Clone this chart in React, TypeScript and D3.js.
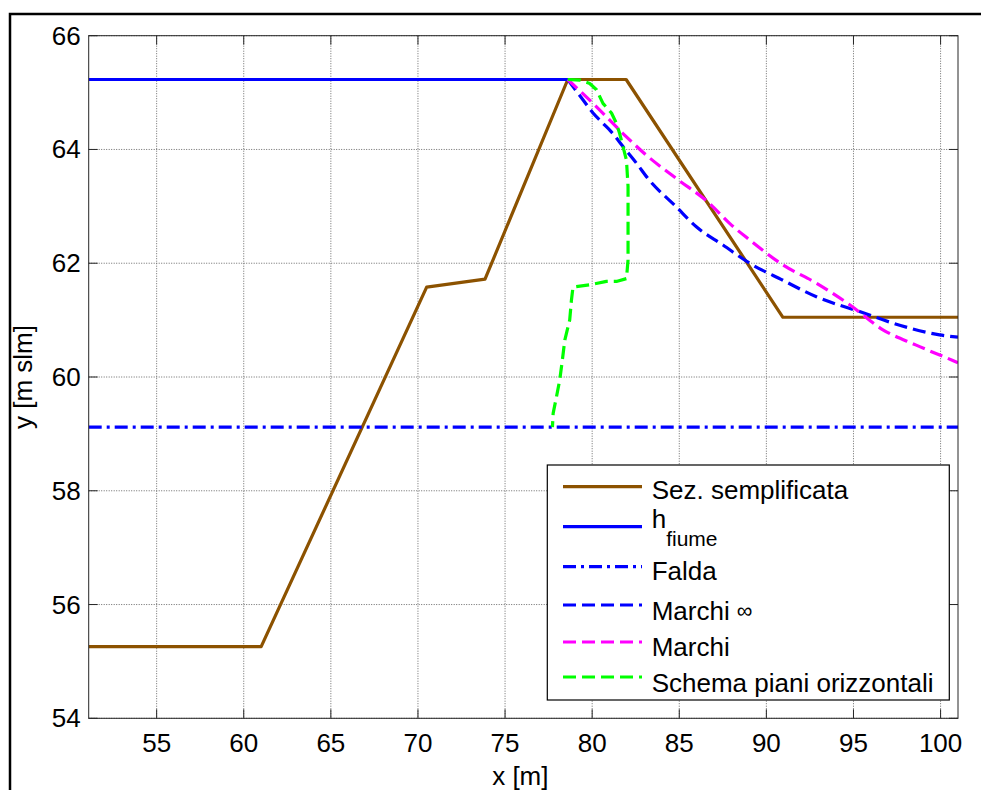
import React from "react";
import * as d3 from "d3";

const sezX = [51.1, 61.0, 70.5, 73.85, 78.6, 81.95, 90.95, 101];
const sezY = [55.26, 55.26, 61.58, 61.72, 65.23, 65.23, 61.05, 61.05];

const fiumeX = [51.1, 78.6];
const fiumeY = [65.23, 65.23];

const faldaX = [51.1, 101];
const faldaY = [59.12, 59.12];

const marchiInfX = [78.6, 79.48, 80.05, 80.62, 81.1, 81.77, 82.54, 83.2, 84.83, 85.98, 87.51, 89.04, 90.95, 92.87, 95.35, 97.65, 99.94, 101];
const marchiInfY = [65.23, 64.87, 64.64, 64.46, 64.31, 64.05, 63.76, 63.49, 62.99, 62.64, 62.32, 62.0, 61.7, 61.41, 61.15, 60.91, 60.74, 60.7];

const marchiX = [78.6, 80.25, 81.77, 83.11, 84.83, 86.74, 87.89, 89.04, 90.95, 92.87, 94.78, 96.69, 98.6, 100.7, 101];
const marchiY = [65.23, 64.75, 64.28, 63.9, 63.49, 63.05, 62.7, 62.41, 61.97, 61.65, 61.27, 60.83, 60.56, 60.29, 60.25];

const schemaX = [78.6, 79.29, 79.86, 80.25, 80.62, 81.11, 81.39, 81.58, 81.77, 81.97, 82.06, 82.06, 82.06, 81.97, 81.39, 80.82, 79.86, 78.9, 78.81, 78.71, 78.43, 78.29, 78.14, 77.95, 77.76, 77.72];
const schemaY = [65.23, 65.22, 65.16, 65.05, 64.81, 64.64, 64.46, 64.28, 64.05, 63.81, 63.35, 62.88, 62.06, 61.73, 61.68, 61.68, 61.62, 61.58, 61.35, 61.0, 60.65, 60.3, 59.95, 59.65, 59.36, 59.12];

const xTicks = [55, 60, 65, 70, 75, 80, 85, 90, 95, 100];
const yTicks = [54, 56, 58, 60, 62, 64, 66];

const legendLabels = ["Sez. semplificata", "h", "Falda", "Marchi", "Marchi", "Schema piani orizzontali"];

const BROWN = "rgb(140,82,0)";
const BLUE = "rgb(0,0,255)";
const MAGENTA = "rgb(255,0,255)";
const GREEN = "rgb(0,255,0)";

const series = [
  { xs: sezX, ys: sezY, color: BROWN, dash: "none", smooth: false },
  { xs: fiumeX, ys: fiumeY, color: BLUE, dash: "none", smooth: false },
  { xs: faldaX, ys: faldaY, color: BLUE, dash: "13,5,3,5", smooth: false },
  { xs: marchiInfX, ys: marchiInfY, color: BLUE, dash: "13,6", smooth: true },
  { xs: marchiX, ys: marchiY, color: MAGENTA, dash: "13,6", smooth: true },
  { xs: schemaX, ys: schemaY, color: GREEN, dash: "13,6", smooth: false },
];

export default function App() {
  const L = 88.7, R = 958, T = 35.7, B = 718.3;
  const x = d3.scaleLinear().domain([51.1, 101]).range([L, R]);
  const y = d3.scaleLinear().domain([54, 66]).range([B, T]);
  const font = "Arial, 'Liberation Sans', sans-serif";
  const fs = 26;

  const lineGen = (xs: number[], ys: number[], smooth: boolean) =>
    d3
      .line<number>()
      .x((_, i) => x(xs[i]))
      .y((_, i) => y(ys[i]))
      .curve(smooth ? d3.curveMonotoneX : d3.curveLinear)(xs) || "";

  const legL = 547.3, legT = 465, legR = 949.3, legB = 700;
  const lineY = [486.7, 526.7, 566.7, 605, 642, 677];
  const textY = [499.3, 528.3, 580, 620, 656, 691.7];

  return (
    <svg width={981} height={790} style={{ position: "absolute", left: 0, top: 0, background: "#fff" }} fontFamily={font}>
      <rect x={0} y={0} width={981} height={790} fill="#fff" />
      <rect x={10} y={14} width={1000} height={800} fill="none" stroke="#000" strokeWidth={2.5} />
      <defs>
        <clipPath id="plotclip">
          <rect x={L} y={T} width={R - L} height={B - T} />
        </clipPath>
      </defs>
      {/* grid */}
      <g stroke="#6a6a6a" strokeWidth={1} strokeDasharray="1,1.5">
        {xTicks.map((t) => (
          <line key={"gx" + t} x1={x(t)} x2={x(t)} y1={T} y2={B} />
        ))}
        {yTicks.map((t) => (
          <line key={"gy" + t} x1={L} x2={R} y1={y(t)} y2={y(t)} />
        ))}
      </g>
      {/* series */}
      <g clipPath="url(#plotclip)" fill="none" strokeWidth={3.2}>
        {series.map((s, i) => (
          <path key={i} d={lineGen(s.xs, s.ys, s.smooth)} stroke={s.color} strokeDasharray={s.dash} strokeLinejoin="round" />
        ))}
      </g>
      {/* axes box */}
      <rect x={L} y={T} width={R - L} height={B - T} fill="none" stroke="#262626" strokeWidth={1} />
      <g stroke="#262626" strokeWidth={1}>
        {xTicks.map((t) => (
          <g key={"tx" + t}>
            <line x1={x(t)} x2={x(t)} y1={B} y2={B - 9} />
            <line x1={x(t)} x2={x(t)} y1={T} y2={T + 9} />
          </g>
        ))}
        {yTicks.map((t) => (
          <g key={"ty" + t}>
            <line x1={L} x2={L + 9} y1={y(t)} y2={y(t)} />
            <line x1={R} x2={R - 9} y1={y(t)} y2={y(t)} />
          </g>
        ))}
      </g>
      {/* tick labels */}
      <g fontSize={fs} fill="#000">
        {xTicks.map((t) => (
          <text key={"lx" + t} x={x(t)} y={752} textAnchor="middle">{t}</text>
        ))}
        {yTicks.map((t) => (
          <text key={"ly" + t} x={L - 8} y={y(t) + 9} textAnchor="end">{t}</text>
        ))}
      </g>
      <text x={(L + R) / 2 - 3} y={785} textAnchor="middle" fontSize={fs}>x [m]</text>
      <text transform={`translate(32, ${(T + B) / 2}) rotate(-90)`} textAnchor="middle" fontSize={fs}>y [m slm]</text>
      {/* legend */}
      <rect x={legL} y={legT} width={legR - legL} height={legB - legT} fill="#fff" stroke="#000" strokeWidth={1.2} />
      {series.map((s, i) => (
        <g key={"lg" + i}>
          <line x1={563} x2={642} y1={lineY[i]} y2={lineY[i]} stroke={s.color} strokeWidth={3.2} strokeDasharray={s.dash} />
          <text x={651.7} y={textY[i]} fontSize={fs}>
            {legendLabels[i]}
            {i === 1 && <tspan fontSize={21} dy={18}>fiume</tspan>}
            {i === 3 && <tspan fontSize={22} dx={7} dy={-2}>∞</tspan>}
          </text>
        </g>
      ))}
    </svg>
  );
}
